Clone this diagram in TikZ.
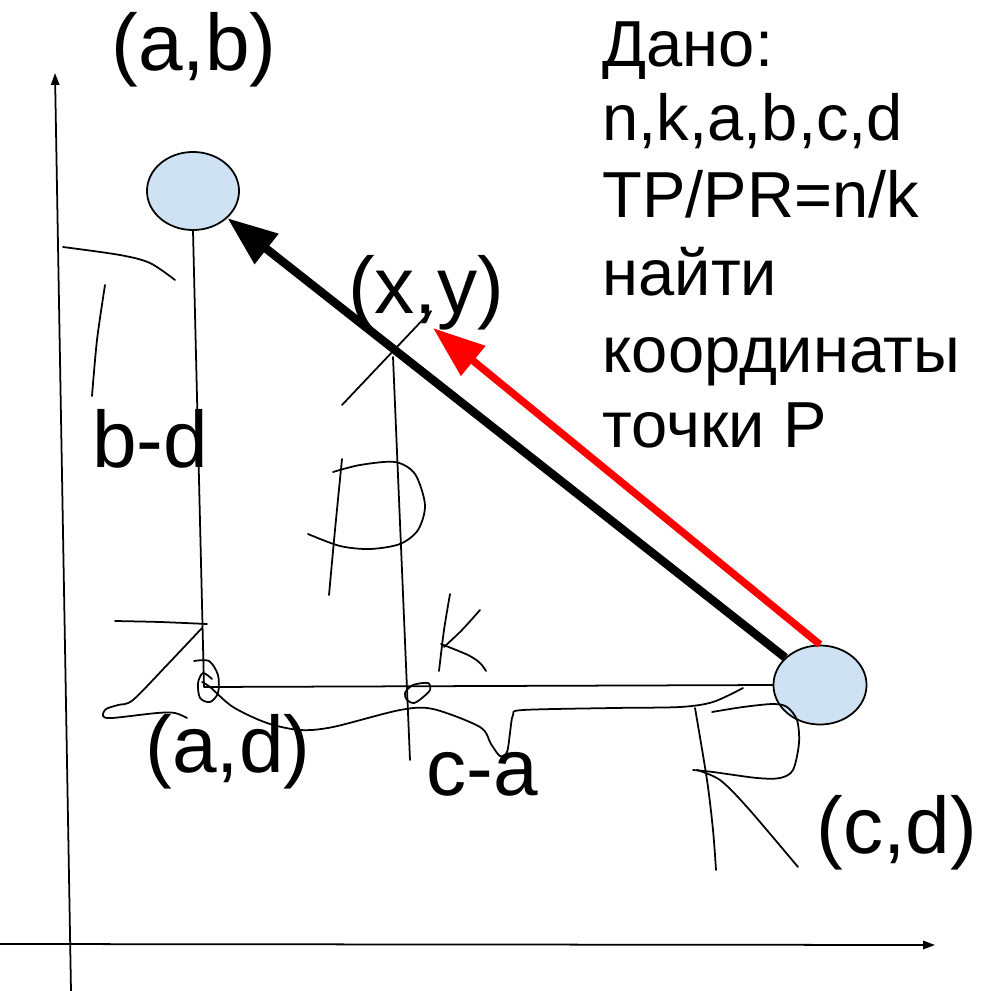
\documentclass[tikz,border=0pt]{standalone}
\usepackage{fontspec}
\setmainfont{Liberation Sans}
\usetikzlibrary{shapes.geometric,arrows.meta}
\definecolor{ptfill}{HTML}{CFE2F3}
\begin{document}
\begin{tikzpicture}[x=0.01cm,y=-0.01cm,
  ptnode/.style={ellipse,draw=black,line width=0.5pt,fill=ptfill,inner sep=0pt},
  scrib/.style={line width=0.5pt,line cap=round,line join=round},
  axisline/.style={line width=0.5pt,-{Triangle[length=3.4pt,width=2.4pt]}},
  lbl/.style={inner sep=0pt,font=\fontsize{22.8}{27}\selectfont},
  given/.style={inner sep=0pt,anchor=base west,font=\fontsize{18.5}{22}\selectfont}]
\useasboundingbox (0,0) rectangle (986,991);

% axes
\coordinate (yb) at (71,991);
\coordinate (yt) at (55,73);
\coordinate (xl) at (0,944);
\coordinate (xr) at (935,945);
\draw[axisline] (yb) -- (yt);
\draw[axisline] (xl) -- (xr);

% points
\node[ptnode,minimum width=0.92cm,minimum height=0.78cm] (ab) at (193,191) {};
\node[ptnode,minimum width=0.93cm,minimum height=0.79cm] (cd) at (820,685) {};
\coordinate (ad) at (204,687);
\draw[scrib] (ab.south) -- (ad) -- (cd.west);

% vertical through (x,y)
\coordinate (xtop) at (393,357);
\coordinate (xbot) at (410,760);
\draw[scrib] (xtop) -- (xbot);

% freehand strokes
\draw[scrib] plot[smooth] coordinates {(63,247) (120,255) (150,263) (175,280)};
\draw[scrib] plot[smooth] coordinates {(105,285) (97,340) (92,396)};
\draw[scrib] (342,405) -- (431,311) -- (426,321);
% P
\draw[scrib] plot[smooth] coordinates {(342,459) (335,530) (329,595)};
\draw[scrib] plot[smooth] coordinates {(333,472) (360,465) (395,462) (415,474) (425,505) (418,530) (400,544) (370,549) (340,546) (308,534)};
% K
\draw[scrib] plot[smooth] coordinates {(450,594) (444,630) (439,671)};
\draw[scrib] plot[smooth] coordinates {(480,610) (462,630) (444,647)};
\draw[scrib] plot[smooth] coordinates {(441,644) (468,655) (480,663) (486,671)};
% near (a,d)
\draw[scrib] plot[smooth] coordinates {(115,621) (160,622) (207,624)};
\draw[scrib] plot[smooth] coordinates {(202,628) (168,664) (133,700) (118,705) (106,709) (103,716) (112,718) (157,713) (175,713) (187,718)};
\draw[scrib] plot[smooth] coordinates {(194,661) (209,661) (218,675) (218,693) (210,702) (200,698) (198,683) (203,673) (212,679)};
\draw[scrib] plot[smooth] coordinates {(202,682) (210,687) (233,707) (267,723) (300,730) (333,727) (400,710) (433,709) (480,727) (491,744) (500,756) (507,752) (510,733) (513,715) (523,710) (613,708) (680,707) (713,702) (743,688)};
% loop at (x,y) foot
\draw[scrib] plot[smooth cycle] coordinates {(405,693) (413,685) (428,683) (430,690) (422,698) (414,703) (407,700)};
% near (c,d)
\draw[scrib] plot[smooth] coordinates {(712,712) (743,707) (773,704) (787,707) (797,720) (799,743) (793,770) (780,778) (757,778) (713,772) (693,770)};
\draw[scrib] plot[smooth] coordinates {(697,770) (720,780) (747,807) (798,867)};
\draw[scrib] plot[smooth] coordinates {(695,708) (707,780) (713,830) (716,870)};

% main arrows
\draw[line width=2.4pt,-{Triangle[length=14.2pt,width=10.4pt]}] (cd) -- (ab);
\coordinate (redtip) at (433,328);
\draw[red,line width=2.1pt,-{Triangle[length=14.8pt,width=10.5pt]}] (cd.north) -- (redtip);

% labels
\node[lbl] (lab) at (194,50) {(a,b)};
\node[lbl] (lxy) at (426,293) {(x,y)};
\node[lbl] (lad) at (228,752) {(a,d)};
\node[lbl] (lcd) at (897,833) {(c,d)};
\node[lbl,anchor=base] (lbd) at (150,467) {b-d};
\node[lbl,anchor=base] (lca) at (482,795) {c-a};

% given
\node[given] (g1) at (602,67) {Дано:};
\node[given] (g2) at (602,140) {n,k,a,b,c,d};
\node[given] (g3) at (602,218) {TP/PR=n/k};
\node[given] (g4) at (602,295) {найти};
\node[given] (g5) at (602,372) {координаты};
\node[given] (g6) at (602,447) {точки P};
\end{tikzpicture}
\end{document}
